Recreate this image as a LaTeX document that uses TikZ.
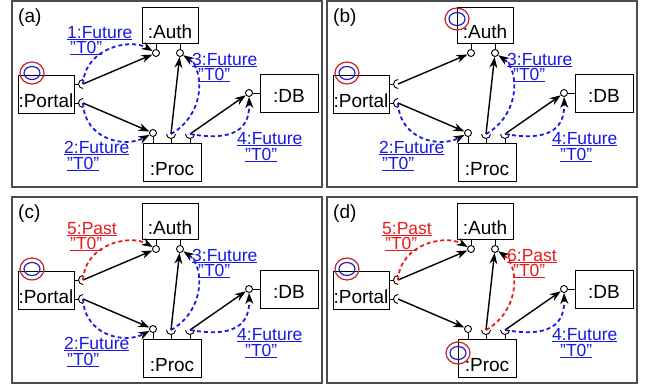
\documentclass[tikz,border=0pt]{standalone}
\usepackage{fontspec}
\setmainfont{Liberation Sans}
\usetikzlibrary{arrows.meta}

\definecolor{futblue}{RGB}{25,25,230}
\definecolor{pastred}{RGB}{235,25,25}
\definecolor{ringred}{RGB}{200,30,30}
\definecolor{ringblue}{RGB}{30,30,200}

% underlined label text
\newcommand{\undl}[1]{\setbox0=\hbox{#1}\rlap{\rule[-2pt]{\wd0}{1.1pt}}\box0}
% red/blue double ring
\newcommand{\rings}[1]{%
  \draw[ringred, line width=1.2pt] (#1) ellipse [x radius=12pt, y radius=11pt];
  \draw[ringblue, line width=1.2pt] (#1) ellipse [x radius=8pt, y radius=6.5pt];}

\begin{document}
\begin{tikzpicture}[x=1pt, y=-1pt,
  box/.style={draw, line width=0.9pt, inner sep=0pt, font=\fontsize{19}{19}\selectfont},
  ball/.style={draw, circle, fill=white, minimum size=7pt, inner sep=0pt, line width=0.9pt},
  port/.style={line width=0.9pt},
  conn/.style={-{Stealth[length=11pt,width=8pt]}, line width=1.4pt},
  flow/.style={dash pattern=on 4pt off 3pt, line width=1.8pt, -{Stealth[length=11pt,width=8pt,black]}},
  lbl/.style={anchor=base west, inner sep=0pt, text height=12.6pt, text depth=2pt,
    font=\fontsize{17.5}{17.5}\selectfont},
  frame/.style={draw=black!70, line width=1.3pt}]

\useasboundingbox (0,0) rectangle (651,388);

% the four panels
\foreach \p/\dx/\dy in {a/0/0, b/315/0, c/0/196, d/315/196} {
\begin{scope}[shift={(\dx,\dy)}]
  \draw[frame] (12,1) rectangle (322,187);
  \node[anchor=base west, inner sep=0pt, font=\fontsize{19}{19}\selectfont] (\p-tag) at (18,22) {(\p)};

  % components
  \node[box, minimum width=56pt, text height=31pt, text depth=5pt] (\p-auth) at (170,25) {:Auth};
  \node[box, minimum width=56pt, text height=32pt, text depth=6pt] (\p-portal) at (46,94) {:Portal};
  \node[box, minimum width=58pt, text height=28pt, text depth=10pt] (\p-db) at (289,93) {:DB};
  \node[box, minimum width=58pt, text height=32pt, text depth=6pt] (\p-proc) at (172,162) {:Proc};

  % provided ports (balls)
  \node[ball] (\p-bA1) at (156,53) {};
  \node[ball] (\p-bA2) at (180,53) {};
  \node[ball] (\p-bR1) at (153,133) {};
  \node[ball] (\p-bD) at (249,93) {};
  \draw[port] (\p-bA1.north) -- (\p-bA1 |- \p-auth.south);
  \draw[port] (\p-bA2.north) -- (\p-bA2 |- \p-auth.south);
  \draw[port] (\p-bR1.south) -- (\p-bR1 |- \p-proc.north);
  \draw[port] (\p-bD.east) -- (\p-bD -| \p-db.west);

  % required ports (sockets)
  \coordinate (\p-sP1) at (83,84);
  \coordinate (\p-sP2) at (83,103);
  \coordinate (\p-sR2) at (171,134);
  \coordinate (\p-sR3) at (190,134);
  \foreach \s in {sP1,sP2} {
    \draw[port] (\p-\s) ++(0pt,4.5pt) arc[start angle=90, end angle=270, radius=4.5pt];
    \draw[port] (\p-\s) ++(-4.5pt,0pt) -- (\p-portal.east |- \p-\s);
  }
  \foreach \s in {sR2,sR3} {
    \draw[port] (\p-\s) ++(-4.5pt,0pt) arc[start angle=180, end angle=360, radius=4.5pt];
    \draw[port] (\p-\s) ++(0pt,-4.5pt) -- (\p-\s |- \p-proc.north);
  }

  % connectors
  \draw[conn] (\p-sP1) -- (\p-bA1);
  \draw[conn] (\p-sP2) -- (\p-bR1);
  \draw[conn] (\p-sR2) -- (\p-bA2);
  \draw[conn] (\p-sR3) -- (\p-bD);

  % ring positions
  \coordinate (\p-rP) at (32,73);
  \coordinate (\p-rA) at (142,19);
  \coordinate (\p-rR) at (143,157);

  % message 4
  \draw[flow, futblue] (\p-sR3) .. controls +(35,6) and +(1,42) .. (\p-bD);
  \node[lbl, futblue] (\p-m4) at (237,144) {\undl{4:Future}};
  \node[lbl, futblue] (\p-t4) at (245,160) {\undl{"T0"}};
\end{scope}}

% message 1 / 5
\foreach \p/\dx/\dy in {a/0/0} {
\begin{scope}[shift={(\dx,\dy)}]
  \draw[flow, futblue] (\p-sP1) .. controls +(2,-36) and +(-26,-15) .. (\p-bA1);
  \node[lbl, futblue] (\p-m1) at (67,38) {\undl{1:Future}};
  \node[lbl, futblue] (\p-t1) at (70,53) {\undl{"T0"}};
\end{scope}}
\foreach \p/\dx/\dy in {c/0/196, d/315/196} {
\begin{scope}[shift={(\dx,\dy)}]
  \draw[flow, pastred] (\p-sP1) .. controls +(2,-36) and +(-26,-15) .. (\p-bA1);
  \node[lbl, pastred] (\p-m1) at (67,38) {\undl{5:Past}};
  \node[lbl, pastred] (\p-t1) at (70,53) {\undl{"T0"}};
\end{scope}}

% message 2
\foreach \p/\dx/\dy in {a/0/0, b/315/0, c/0/196} {
\begin{scope}[shift={(\dx,\dy)}]
  \draw[flow, futblue] (\p-sP2) .. controls +(2,37) and +(-28,15) .. (\p-bR1);
  \node[lbl, futblue] (\p-m2) at (64,153) {\undl{2:Future}};
  \node[lbl, futblue] (\p-t2) at (67,169) {\undl{"T0"}};
\end{scope}}

% message 3 / 6
\foreach \p/\dx/\dy in {a/0/0, b/315/0, c/0/196} {
\begin{scope}[shift={(\dx,\dy)}]
  \draw[flow, futblue] (\p-sR2) .. controls +(34,-19) and +(25,17) .. (\p-bA2);
  \node[lbl, futblue] (\p-m3) at (192,65) {\undl{3:Future}};
  \node[lbl, futblue] (\p-t3) at (198,80) {\undl{"T0"}};
\end{scope}}
\foreach \p/\dx/\dy in {d/315/196} {
\begin{scope}[shift={(\dx,\dy)}]
  \draw[flow, pastred] (\p-sR2) .. controls +(34,-19) and +(25,17) .. (\p-bA2);
  \node[lbl, pastred] (\p-m3) at (192,65) {\undl{6:Past}};
  \node[lbl, pastred] (\p-t3) at (198,80) {\undl{"T0"}};
\end{scope}}

% rings
\foreach \p in {a,b,c,d} {\rings{\p-rP}}
\rings{b-rA}
\rings{d-rR}
\end{tikzpicture}
\end{document}
